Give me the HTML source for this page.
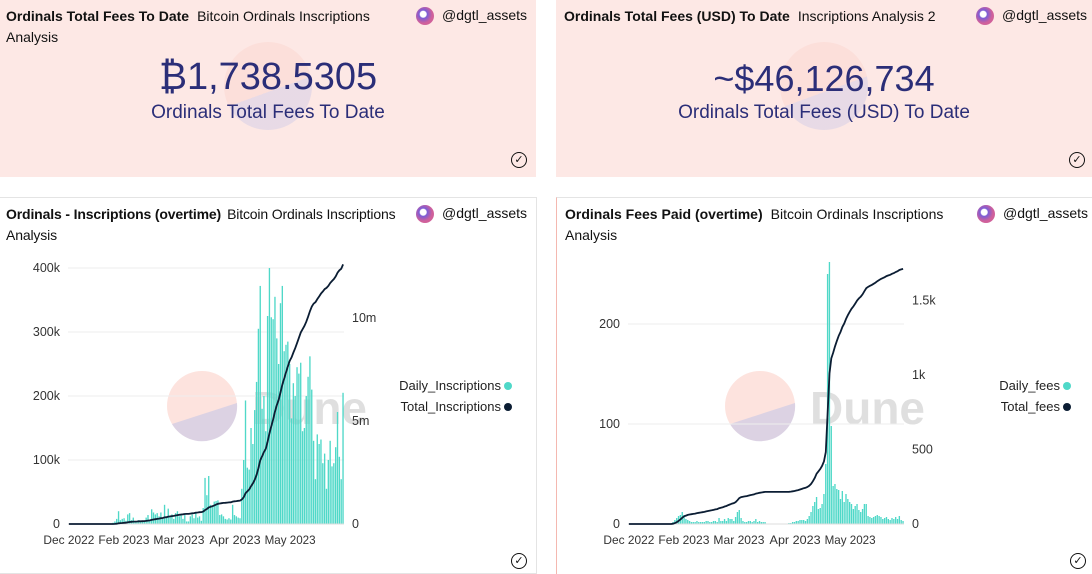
<!DOCTYPE html>
<html><head><meta charset="utf-8">
<style>
body{margin:0;width:1092px;height:574px;position:relative;overflow:hidden;background:#fff;font-family:"Liberation Sans",sans-serif;color:#111}
.panel{position:absolute;box-sizing:border-box}
.top{background:#fde8e5;top:0;height:177px}
.title{position:absolute;left:6px;top:6px;font-size:14px;line-height:21px;width:400px}
.title b{font-weight:bold;margin-right:8px}
.user{position:absolute;top:6px;font-size:14px;line-height:18px}
.av{display:inline-block;width:18px;height:18px;border-radius:50%;background:radial-gradient(circle at 40% 40%,#fff 0 3px,#7b5cd6 4px,#d0609a 9px);vertical-align:middle;margin-right:8px}
.big{position:absolute;width:100%;text-align:center;color:#2b2e78}
.check{position:absolute;width:14px;height:14px;border:1.6px solid #111;border-radius:50%;font-size:11px;line-height:14px;text-align:center}
.wm{position:absolute;border-radius:50%;background:linear-gradient(160deg,#fcd9d3 55%,#d9d1e6 55%);opacity:.6}
</style></head><body>
<div class="panel top" style="left:0;width:536px">
 <div class="wm" style="left:224px;top:42px;width:88px;height:88px"></div>
 <div class="title"><b>Ordinals Total Fees To Date</b>Bitcoin Ordinals Inscriptions Analysis</div>
 <div class="user" style="left:416px"><span class="av"></span>@dgtl_assets</div>
 <div class="big" style="top:56px;font-size:38px">₿1,738.5305</div>
 <div class="big" style="top:102px;font-size:19px">Ordinals Total Fees To Date</div>
 <div class="check" style="left:511px;top:152px">✓</div>
</div>
<div class="panel top" style="left:556px;width:536px">
 <div class="wm" style="left:224px;top:42px;width:88px;height:88px"></div>
 <div class="title" style="left:8px"><b>Ordinals Total Fees (USD) To Date</b>Inscriptions Analysis 2</div>
 <div class="user" style="left:420px"><span class="av"></span>@dgtl_assets</div>
 <div class="big" style="top:58px;font-size:36px">~$46,126,734</div>
 <div class="big" style="top:102px;font-size:19px">Ordinals Total Fees (USD) To Date</div>
 <div class="check" style="left:513px;top:152px">✓</div>
</div>
<div class="panel" style="left:0;top:197px;width:537px;height:377px;border:1px solid #e4e4e4;border-left:none">
 <div class="title" style="width:412px;letter-spacing:-0.15px"><b style="margin-right:6px">Ordinals - Inscriptions (overtime)</b>Bitcoin Ordinals Inscriptions Analysis</div>
 <div class="user" style="left:416px"><span class="av"></span>@dgtl_assets</div>
 <div class="check" style="left:511px;top:355px">✓</div>
</div>
<div class="panel" style="left:556px;top:197px;width:536px;height:377px;border-left:1px solid #f4b8b0;border-top:1px solid #e4e4e4">
 <div class="title" style="left:8px"><b>Ordinals Fees Paid (overtime)</b>Bitcoin Ordinals Inscriptions Analysis</div>
 <div class="user" style="left:420px"><span class="av"></span>@dgtl_assets</div>
 <div class="check" style="left:513px;top:355px">✓</div>
</div>
<svg id="chart" width="1092" height="574" style="position:absolute;left:0;top:0"></svg>
<script>
const xTickLabels=["Dec 2022","Feb 2023","Mar 2023","Apr 2023","May 2023"];
const xTickDays=[0.5,30.4,60.3,90.8,120.7];
const dailyInscriptionsK=[0,0,0,0,0,0,0,0,0,0,0,0,0,0,0,0,0,0,0,0,0,0,0,0,
2,4,8,20,6,8,9,5,15,17,6,10,3,4,6,3,5,4,10,14,6,23,18,15,17,12,18,8,30,10,24,12,15,8,17,20,
12,15,8,14,4,4,12,15,9,18,10,12,5,25,72,45,75,30,28,35,36,37,14,15,12,8,7,9,7,30,14,12,10,9,55,
100,193,88,85,150,125,178,222,305,372,180,200,145,325,400,323,320,355,290,250,345,372,270,280,285,250,165,220,200,245,235,252,145,150,200,230,262,210,130,70,140,125,132,95,110,55,100,130,90,95,120,175,105,70,205];
const dailyFees=[0,0,0,0,0,0,0,0,0,0,0,0,0,0,0,0,0,0,0,0,0,0,0,0,
2,4,6,8,9,12,9,5,4,3,2,2,2,3,2,2,2,
2,3,3,2,2,3,3,2,6,3,3,5,3,6,5,5,3,7,12,14,6,3,2,2,3,3,2,3,5,2,3,2,2,2,
0,0,0,0,0,0,0,0,0,0,0,0,1,1,2,2,3,3,4,4,4,
3,5,8,12,18,22,27,15,16,20,30,60,250,262,98,38,40,35,34,25,33,22,30,25,22,20,15,18,20,14,12,15,20,20,8,7,6,7,8,9,8,7,5,6,7,5,4,6,5,7,5,8,4,3];
const leftTicksA=[0,100,200,300,400], leftTickLabelsA=["0","100k","200k","300k","400k"];
const rightTicksA=[0,5,10], rightTickLabelsA=["0","5m","10m"];
const leftTicksB=[0,100,200], rightTicksB=[0,500,1000,1500], rightTickLabelsB=["0","500","1k","1.5k"];
const NS="http://www.w3.org/2000/svg", svg=document.getElementById('chart');
function el(t,a,p){const e=document.createElementNS(NS,t);for(const k in a)e.setAttribute(k,a[k]);(p||svg).appendChild(e);return e;}
function txt(s,a,p){const e=el('text',Object.assign({'font-family':'Liberation Sans, sans-serif','font-size':12.5,fill:'#333'},a),p);e.textContent=s;return e;}
function chart(o){
 const g=el('g',{});
 
 
 const x=d=>o.x0+d*(o.x1-o.x0)/150, yL=v=>o.y0-v*o.kL, yR=v=>o.y0-v*o.kR;
 const w=el('circle',{cx:o.wx,cy:406,r:35,fill:'#fcd9d3',opacity:0.75},g);
 
 
 el('path',{d:`M${o.wx-30},${424} L${o.wx+35},${403} A35,35 0 0 1 ${o.wx-30},${424}Z`,fill:'#d6cfe4',opacity:0.85},g);
 const dt=txt('Dune',{x:o.wx+50,y:424,'font-size':46,'font-weight':'bold',fill:'#000',opacity:0.12},g);
 
 
 o.lt.forEach((v,i)=>{ if(v>0) el('line',{x1:o.x0,x2:o.x1,y1:yL(v),y2:yL(v),stroke:'#eee'},g);
  const t=txt(o.ll[i],{x:o.x0-8,y:yL(v)+4,'text-anchor':'end'},g);
  
  });
 o.rt.forEach((v,i)=>{const t=txt(o.rl[i],{x:o.x1+8,y:yR(v)+4},g);
  
  });
 xTickDays.forEach((d,i)=>{const t=txt(xTickLabels[i],{x:x(d),y:544,'text-anchor':'middle','font-size':12,textLength:51,lengthAdjust:'spacingAndGlyphs'},g);
  
  });
 o.daily.forEach((v,i)=>{ if(v<=0) return;
  const r=el('rect',{x:x(i)+0.2,y:yL(v),width:1.35,height:v*o.kL,fill:'#4fd8c8'},g);
  
  });
 el('line',{x1:o.x0,x2:o.x1,y1:o.y0,y2:o.y0,stroke:'#ddd'},g);
 let c=0,pts=[];
 o.daily.forEach((v,i)=>{c+=v*o.cumF;pts.push(x(i+0.5).toFixed(1)+','+yR(c).toFixed(1));});
 const ln=el('polyline',{points:pts.join(' '),fill:'none',stroke:'#0b1d33','stroke-width':1.8},g);
 
 
 o.legend.forEach((s,i)=>{const t=txt(s,{x:o.lx,y:390+i*21,'text-anchor':'end','font-size':13,fill:'#222'},g);
  
  
  el('circle',{cx:o.lx+7,cy:386+i*21,r:4,fill:i?'#0b1d33':'#4fd8c8'},g);});
}
chart({name:'inscriptions-chart',x0:68,x1:344,y0:524,kL:0.64,kR:20.6,cumF:0.00105,daily:dailyInscriptionsK,
 lt:leftTicksA,ll:leftTickLabelsA,rt:rightTicksA,rl:rightTickLabelsA,wx:202,lx:501,legend:['Daily_Inscriptions','Total_Inscriptions']});
chart({name:'fees-chart',x0:628,x1:904,y0:524,kL:1,kR:0.149,cumF:1.03,daily:dailyFees,
 lt:leftTicksB,ll:leftTicksB.map(String),rt:rightTicksB,rl:rightTickLabelsB,wx:760,lx:1060,legend:['Daily_fees','Total_fees']});
</script>
</body></html>
